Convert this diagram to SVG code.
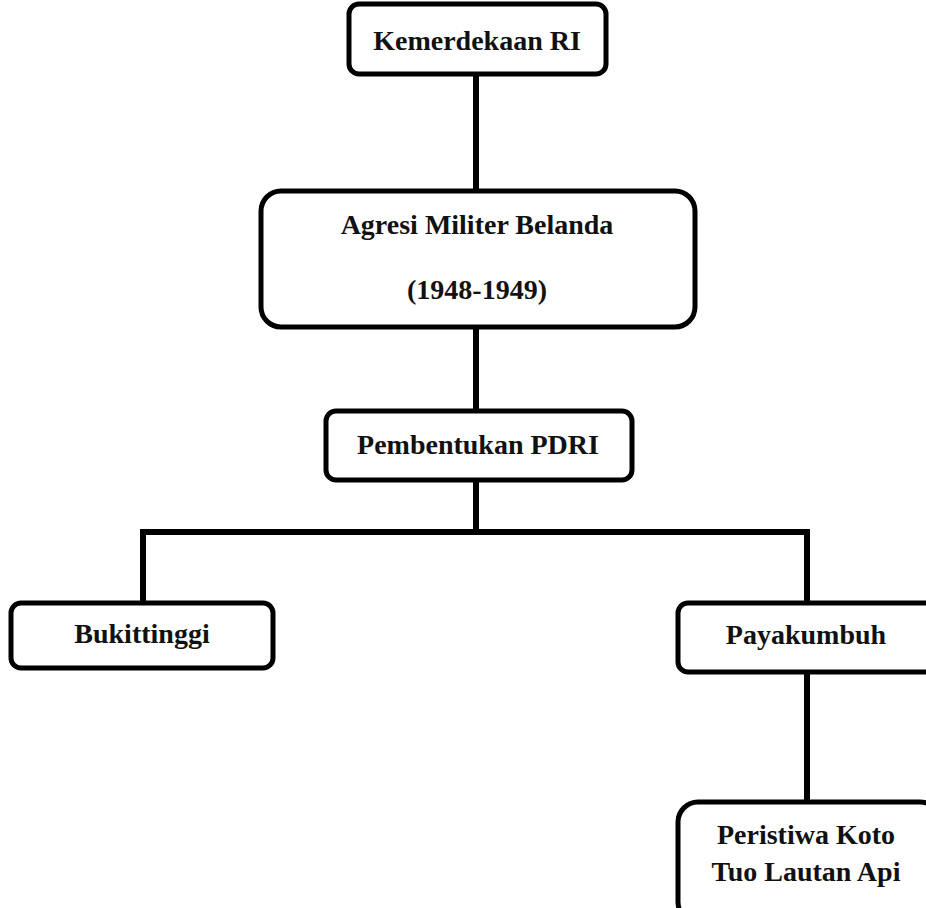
<svg xmlns="http://www.w3.org/2000/svg" width="926" height="908" viewBox="0 0 926 908">
<style>
.box{fill:#fff;stroke:#000;stroke-width:5}
.lbl{font-family:"Liberation Serif","Times New Roman",serif;font-weight:bold;font-size:28px;fill:#111;text-anchor:middle}
.con{fill:none;stroke:#000;stroke-width:6}
</style>
<rect width="926" height="908" fill="#fff"/>
<g id="connectors">
<line class="con" x1="476" y1="74" x2="476" y2="192"/>
<line class="con" x1="476" y1="327" x2="476" y2="411"/>
<polyline class="con" points="476,480 476,532 143,532 143,603"/>
<polyline class="con" points="476,532 807,532 807,603"/>
<line class="con" x1="807" y1="672" x2="807" y2="802"/>
</g>
<g id="kemerdekaan">
<rect class="box" x="349" y="4" width="257" height="70" rx="10"/>
<text class="lbl" x="477" y="50">Kemerdekaan RI</text>
</g>
<g id="agresi">
<rect class="box" x="261" y="191" width="434" height="136" rx="20"/>
<text class="lbl" x="477" y="234">Agresi Militer Belanda</text>
<text class="lbl" x="477" y="299">(1948-1949)</text>
</g>
<g id="pdri">
<rect class="box" x="326" y="411" width="306" height="69" rx="10"/>
<text class="lbl" x="478" y="454">Pembentukan PDRI</text>
</g>
<g id="bukittinggi">
<rect class="box" x="11" y="603" width="262" height="65" rx="10"/>
<text class="lbl" x="142" y="643">Bukittinggi</text>
</g>
<g id="payakumbuh">
<rect class="box" x="678" y="603" width="262" height="69" rx="10"/>
<text class="lbl" x="806" y="644">Payakumbuh</text>
</g>
<g id="koto">
<rect class="box" x="678" y="802" width="262" height="120" rx="20"/>
<text class="lbl" x="806" y="844">Peristiwa Koto</text>
<text class="lbl" x="806" y="881">Tuo Lautan Api</text>
</g>
</svg>
